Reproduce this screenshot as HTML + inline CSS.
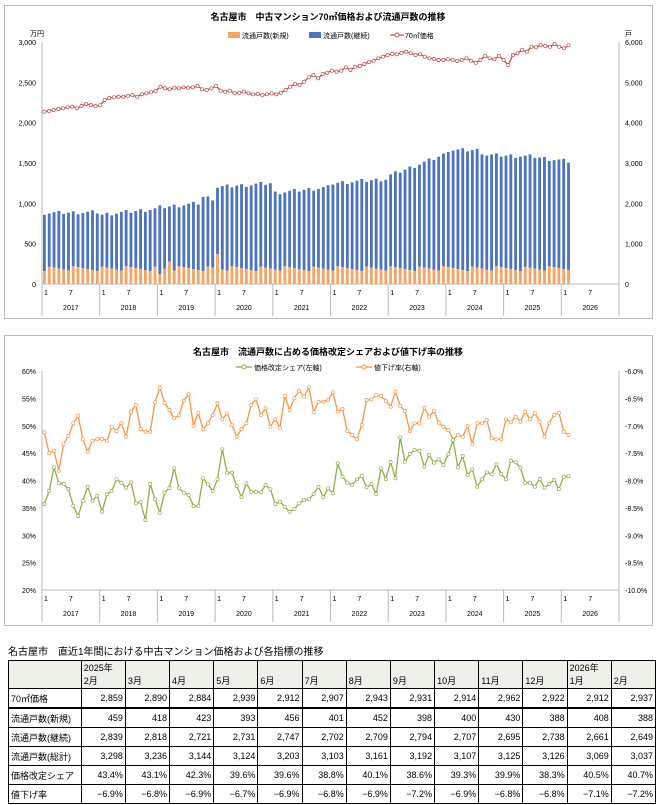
<!DOCTYPE html>
<html><head><meta charset="utf-8"><style>
body{margin:0;width:656px;height:805px;background:#fff;position:relative;overflow:hidden;font-family:"Liberation Sans","Noto Sans CJK JP",sans-serif}
svg{position:absolute;left:0;top:0}
text{font-family:"Liberation Sans","Noto Sans CJK JP",sans-serif}
#tt{position:absolute;left:8px;top:643px;font-size:10px}
table{position:absolute;left:8px;top:660px;border-collapse:collapse;font-size:9px}
td{border:1px solid #000;height:18px;padding:0 2px;text-align:right;width:40px}
td.f{text-align:left;width:68px;white-space:nowrap}
tr.h td{background:#eef0ea;height:27px;vertical-align:bottom;text-align:left;line-height:13px}
tr.b td{border-bottom:2px solid #000}
</style></head><body>
<svg id="s" width="656" height="640"></svg>
<div id="tt">名古屋市　直近1年間における中古マンション価格および各指標の推移</div>
<table>
<tr class="h"><td class="f"></td><td>2025年<br>2月</td><td>3月</td><td>4月</td><td>5月</td><td>6月</td><td>7月</td><td>8月</td><td>9月</td><td>10月</td><td>11月</td><td>12月</td><td>2026年<br>1月</td><td>2月</td></tr>
<tr class="b"><td class="f">70㎡価格</td><td>2,859</td><td>2,890</td><td>2,884</td><td>2,939</td><td>2,912</td><td>2,907</td><td>2,943</td><td>2,931</td><td>2,914</td><td>2,962</td><td>2,922</td><td>2,912</td><td>2,937</td></tr>
<tr><td class="f">流通戸数(新規)</td><td>459</td><td>418</td><td>423</td><td>393</td><td>456</td><td>401</td><td>452</td><td>398</td><td>400</td><td>430</td><td>388</td><td>408</td><td>388</td></tr>
<tr><td class="f">流通戸数(継続)</td><td>2,839</td><td>2,818</td><td>2,721</td><td>2,731</td><td>2,747</td><td>2,702</td><td>2,709</td><td>2,794</td><td>2,707</td><td>2,695</td><td>2,738</td><td>2,661</td><td>2,649</td></tr>
<tr><td class="f">流通戸数(総計)</td><td>3,298</td><td>3,236</td><td>3,144</td><td>3,124</td><td>3,203</td><td>3,103</td><td>3,161</td><td>3,192</td><td>3,107</td><td>3,125</td><td>3,126</td><td>3,069</td><td>3,037</td></tr>
<tr><td class="f">価格改定シェア</td><td>43.4%</td><td>43.1%</td><td>42.3%</td><td>39.6%</td><td>39.6%</td><td>38.8%</td><td>40.1%</td><td>38.6%</td><td>39.3%</td><td>39.9%</td><td>38.3%</td><td>40.5%</td><td>40.7%</td></tr>
<tr><td class="f">値下げ率</td><td>−6.9%</td><td>−6.8%</td><td>−6.9%</td><td>−6.7%</td><td>−6.9%</td><td>−6.8%</td><td>−6.9%</td><td>−7.2%</td><td>−6.9%</td><td>−6.8%</td><td>−6.8%</td><td>−7.1%</td><td>−7.2%</td></tr>
</table>
<script>
var S=document.getElementById('s'),h='';
var X0=42,X1=619,W=(X1-X0)/120;
function T(x,y,t,sz,anc,w){h+='<text x="'+x+'" y="'+y+'" font-size="'+(sz||7)+'" text-anchor="'+(anc||'middle')+'"'+(w?' font-weight="bold"':'')+'>'+t+'</text>';}
function L(a,b,c,d,col,sw){h+='<line x1="'+a+'" y1="'+b+'" x2="'+c+'" y2="'+d+'" stroke="'+(col||'#999')+'" stroke-width="'+(sw||1)+'"/>';}
h+='<rect x="4.5" y="5.5" width="648" height="313" fill="#fff" stroke="#bbb"/>';
h+='<rect x="4.5" y="335.5" width="648" height="290" fill="#fff" stroke="#bbb"/>';
T(328,20,'名古屋市　中古マンション70㎡価格および流通戸数の推移',9,'middle',1);
T(328,355,'名古屋市　流通戸数に占める価格改定シェアおよび値下げ率の推移',9,'middle',1);
var Y0=284,K=242/3000;
for(var v=0;v<=3000;v+=500){var y=Y0-v*K;T(36,y+3,v?v.toLocaleString('en'):'0',7,'end');T(625,y+3,(v*2).toLocaleString('en'),7,'start');}
T(30,36,'万円',7,'start');T(625,36,'戸',7,'start');
h+='<rect x="228" y="32" width="12" height="6" fill="#f7a460"/>';T(242,38,'流通戸数(新規)',7,'start');
h+='<rect x="309" y="32" width="12" height="6" fill="#4a73c2"/>';T(323,38,'流通戸数(継続)',7,'start');
L(390,35,404,35,'#c0504d',1.2);h+='<circle cx="397" cy="35" r="2" fill="#fff" stroke="#c0504d"/>';T(405,38,'70㎡価格',7,'start');
var kp=[[0,880],[11,890],[12,860],[23,930],[24,950],[32,1000],[33,1080],[35,1060],[36,1200],[47,1250],[48,1130],[59,1200],[60,1250],[71,1300],[72,1350],[83,1600],[84,1660],[90,1660],[92,1600],[102,1580],[105,1550],[109,1520]];
function interp(i){for(var k=0;k<kp.length-1;k++){if(i<=kp[k+1][0]){var a=kp[k],b=kp[k+1];return a[1]+(b[1]-a[1])*(i-a[0])/Math.max(1,b[0]-a[0]);}}return kp[kp.length-1][1];}
for(var i=0;i<110;i++){var tot=interp(i)+((i*37)%7-3)*8,or=190+((i*53)%11-5)*6;if(i==36)or=370;if(i==26)or=280;if(i==24)or=120;
var x=X0+i*W+1.0,bw=W-2.0;h+='<rect x="'+x.toFixed(2)+'" y="'+(Y0-tot*K).toFixed(1)+'" width="'+bw.toFixed(2)+'" height="'+((tot-or)*K).toFixed(1)+'" fill="#4a73c2"/>';
h+='<rect x="'+x.toFixed(2)+'" y="'+(Y0-or*K).toFixed(1)+'" width="'+bw.toFixed(2)+'" height="'+(or*K).toFixed(1)+'" fill="#f7a460"/>';}
var pz=[335,333,330,327,325,322,320,325,318,312,315,318,316,300,294,292,290,290,288,285,290,283,280,277,273,260,265,268,263,265,262,263,262,258,268,270,265,258,272,275,272,280,278,275,280,283,282,285,283,280,283,278,270,260,252,255,245,232,225,235,222,218,212,215,212,202,210,200,198,192,186,182,175,170,165,162,163,158,155,160,165,163,170,175,177,180,180,178,180,183,180,175,182,188,180,168,175,178,168,180,195,165,160,150,155,140,142,135,138,140,132,140,145,136];
function line(arr,f,col){var n=arr.length,p=[];for(var i=0;i<n;i++){var x=X0+W/2+i*(109*W)/(n-1);p.push(x.toFixed(1)+','+f(arr[i]).toFixed(1));}
h+='<polyline points="'+p.join(' ')+'" fill="none" stroke="'+col+'" stroke-width="1.3"/>';p.forEach(function(q){var c=q.split(',');h+='<circle cx="'+c[0]+'" cy="'+c[1]+'" r="1.6" fill="#fff" stroke="'+col+'" stroke-width="0.7"/>';});}
line(pz,function(z){return z/3;},'#c0504d');
L(X0,Y0,X1,Y0,'#bbb');L(X0,42,X0,Y0,'#bbb');L(X1,42,X1,Y0,'#bbb');
function xax(Y){for(var yr=0;yr<10;yr++){var bx=X0+yr*12*W;L(bx,Y,bx,Y+32,'#bbb');T(bx+2,Y+11,'1',7,'start');T(bx+6*W,Y+11,'7',7,'middle');T(bx+6*W,Y+26,2017+yr,7);}L(X1,Y,X1,Y+32,'#bbb');}
xax(Y0);
var A=371,B=590;
for(var j=0;j<=8;j++){var y=A+j*(B-A)/8;T(36,y+3,(60-5*j)+'%',7,'end');T(625,y+3,'-'+(6+0.5*j).toFixed(1)+'%',7,'start');}
L(X0,A,X0,B,'#bbb');L(X1,A,X1,B,'#bbb');L(X0,B,X1,B,'#bbb');
L(236,367,252,367,'#8db04a',1.3);h+='<circle cx="244" cy="367" r="2" fill="#fff" stroke="#8db04a"/>';T(254,370,'価格改定シェア(左軸)',7,'start');
L(356,367,372,367,'#f79646',1.3);h+='<circle cx="364" cy="367" r="2" fill="#fff" stroke="#f79646"/>';T(374,370,'値下げ率(右軸)',7,'start');
var gz=[432,392,322,370,372,387,437,468,422,380,422,407,455,403,393,358,368,383,367,430,426,480,372,418,458,398,384,325,385,398,405,438,437,355,373,393,358,268,338,338,378,412,370,395,395,397,375,388,432,425,440,455,447,430,420,418,402,380,412,385,400,310,350,368,375,358,348,382,372,402,325,357,306,355,232,305,282,270,272,320,285,308,298,315,283,240,322,288,345,328,380,358,337,343,313,342,358,302,307,323,368,368,380,357,383,372,360,388,350,349];
var oz=[217,280,272,332,253,228,190,167,238,275,243,237,237,242,200,213,190,230,155,135,207,215,215,127,83,128,150,175,165,122,103,197,158,208,190,165,130,178,160,195,230,207,190,135,118,165,145,200,178,203,108,150,115,92,110,82,157,125,125,120,97,155,147,212,225,238,195,120,118,105,108,122,140,95,137,153,213,190,190,143,170,153,188,200,210,238,225,230,198,252,190,190,180,235,238,238,178,187,170,185,155,178,160,185,230,188,165,158,215,225];
line(oz,function(z){return 360+z/3;},'#f79646');
line(gz,function(z){return 360+z/3;},'#8db04a');
xax(B);
S.innerHTML=h;
</script>
</body></html>
